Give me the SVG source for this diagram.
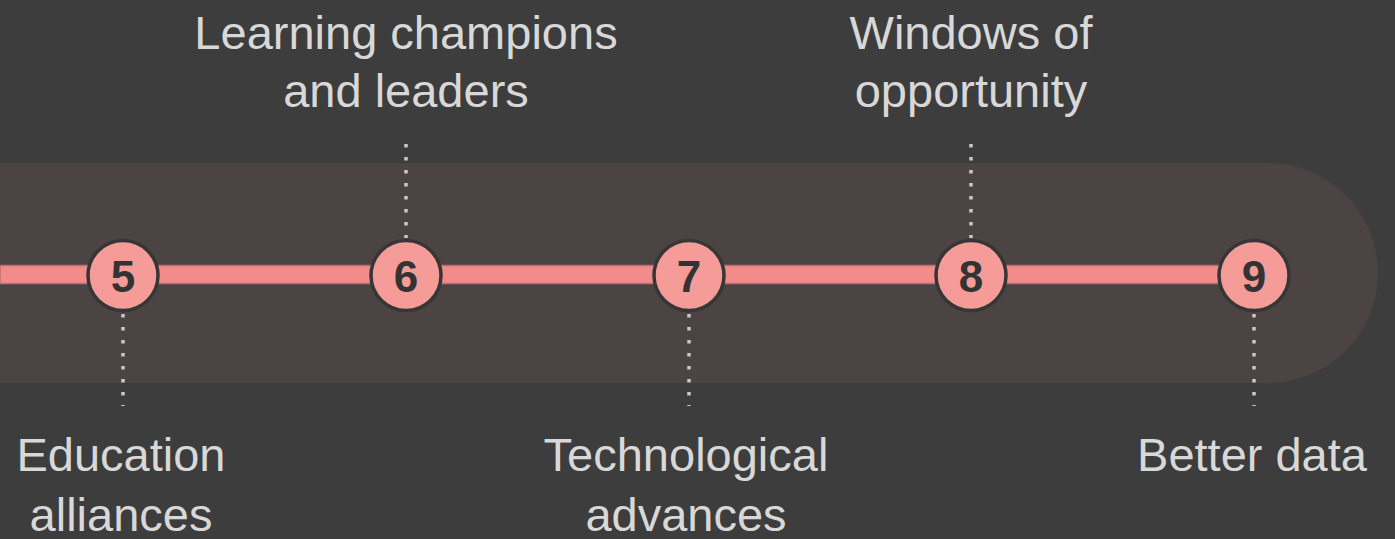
<svg xmlns="http://www.w3.org/2000/svg" width="1395" height="539" viewBox="0 0 1395 539">
<style>
.lbl{font-family:"Liberation Sans",Arial,sans-serif;font-size:47px;fill:#d8d8d8;text-anchor:middle}
.num{font-family:"Liberation Sans",Arial,sans-serif;font-size:44px;font-weight:bold;fill:#333333;text-anchor:middle}
.dot{stroke:#c8c8c8;stroke-width:3.5;stroke-dasharray:3.5 9.5;fill:none}
.node circle{fill:#f59b98;stroke:#363636;stroke-width:3.5}
</style>
<rect x="0" y="0" width="1395" height="539" fill="#3d3d3d"/>
<path d="M0,163 H1268 A110,110 0 0 1 1268,383 H0 Z" fill="#4b4443"/>
<g id="connectors">
<rect x="0" y="265.5" width="1260" height="18" fill="#f28b8a" stroke="#b87170" stroke-width="1.5"/>
<line class="dot" x1="406" y1="144" x2="406" y2="238"/>
<line class="dot" x1="971" y1="144" x2="971" y2="238"/>
<line class="dot" x1="123" y1="314" x2="123" y2="406"/>
<line class="dot" x1="689" y1="314" x2="689" y2="406"/>
<line class="dot" x1="1254" y1="314" x2="1254" y2="406"/>
</g>
<g id="node5" class="node"><circle cx="123" cy="275.5" r="35"/><text class="num" x="123" y="291.5">5</text></g>
<g id="node6" class="node"><circle cx="406" cy="275.5" r="35"/><text class="num" x="406" y="291.5">6</text></g>
<g id="node7" class="node"><circle cx="689" cy="275.5" r="35"/><text class="num" x="689" y="291.5">7</text></g>
<g id="node8" class="node"><circle cx="971" cy="275.5" r="35"/><text class="num" x="971" y="291.5">8</text></g>
<g id="node9" class="node"><circle cx="1254" cy="275.5" r="35"/><text class="num" x="1254" y="291.5">9</text></g>
<g id="label6"><text class="lbl" x="406" y="49">Learning champions</text><text class="lbl" x="406" y="107">and leaders</text></g>
<g id="label8"><text class="lbl" x="971" y="49">Windows of</text><text class="lbl" x="971" y="107">opportunity</text></g>
<g id="label5"><text class="lbl" x="121" y="471">Education</text><text class="lbl" x="121" y="531">alliances</text></g>
<g id="label7"><text class="lbl" x="686" y="471">Technological</text><text class="lbl" x="686" y="531">advances</text></g>
<g id="label9"><text class="lbl" x="1252" y="471">Better data</text></g>
</svg>
